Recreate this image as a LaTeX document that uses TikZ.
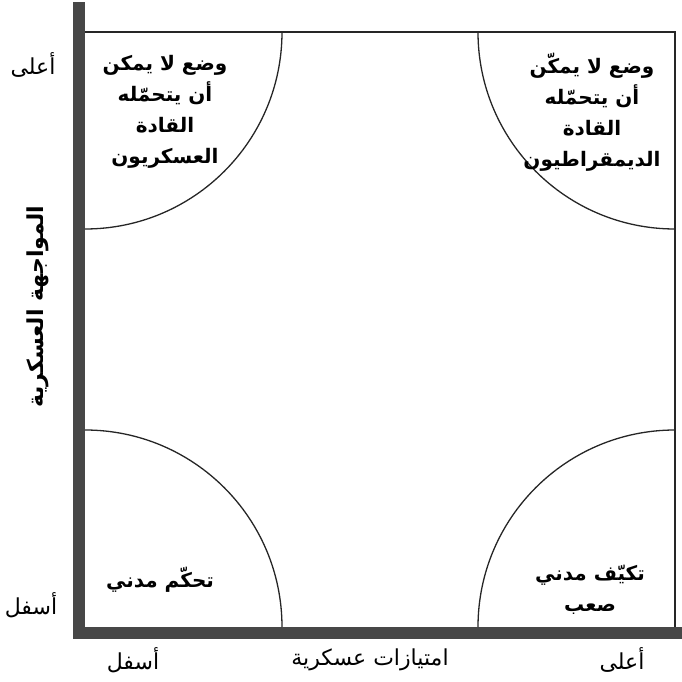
\documentclass[tikz,border=0pt]{standalone}
\usepackage{fontspec}
\newfontfamily\arabicfont[Script=Arabic]{DejaVu Sans}
\TeXXeTstate=1
\newcommand{\artxt}[1]{\beginR #1\endR}
\usepackage{tikz}
\usetikzlibrary{positioning}
\usepackage{xcolor}

\begin{document}
\begin{tikzpicture}[
            x=0.5pt, y=0.5pt,
            zone/.style={align=center, inner sep=1pt, font=\arabicfont\bfseries\fontsize{10}{15.5}\selectfont},
            tick/.style={inner sep=1pt, font=\arabicfont\fontsize{11}{15.5}\selectfont},
            axis/.style={fill=black!72, draw=none},
            frame/.style={line width=0.75pt, black!85},
            arc/.style={line width=0.65pt, black!85}
        ]
            \useasboundingbox (0,0) rectangle (682,682);

            % --- AXES ---
            \fill[axis] (73,43) rectangle (85,680);
            \fill[axis] (73,43) rectangle (682,55);
            \draw[frame] (85,650) -- (675,650) -- (675,55);

            % --- QUARTER CIRCLES IN THE CORNERS ---
            \draw[arc] (282,650) arc[start angle=0, end angle=-90, radius=197];
            \draw[arc] (478,650) arc[start angle=180, end angle=270, radius=197];
            \draw[arc] (85,252) arc[start angle=90, end angle=0, radius=197];
            \draw[arc] (675,252) arc[start angle=90, end angle=180, radius=197];

            % --- ZONES ---
            \node[zone] (military) at (165,570) {\artxt{وضع لا يمكن}\\\artxt{أن يتحمّله}\\\artxt{القادة}\\\artxt{العسكريون}};
            \node[zone] (democrats) at (592,570) {\artxt{وضع لا يمكّن}\\\artxt{أن يتحمّله}\\\artxt{القادة}\\\artxt{الديمقراطيون}};
            \node[zone] (control) at (160,102) {\artxt{تحكّم مدني}};
            \node[zone] (adapt) at (590,92) {\artxt{تكيّف مدني}\\\artxt{صعب}};

            % --- AXIS LABELS ---
            \node[tick] (yhigh) at (33,617) {\artxt{أعلى}};
            \node[tick] (ylow) at (31,77) {\artxt{أسفل}};
            \node[tick, rotate=90, font=\arabicfont\bfseries\fontsize{11}{15.5}\selectfont] (ytitle) at (38,375) {\artxt{المواجهة العسكرية}};
            \node[tick] (xlow) at (133,22) {\artxt{أسفل}};
            \node[tick] (xtitle) at (370,22) {\artxt{امتيازات عسكرية}};
            \node[tick] (xhigh) at (622,22) {\artxt{أعلى}};

        \end{tikzpicture}
\end{document}
